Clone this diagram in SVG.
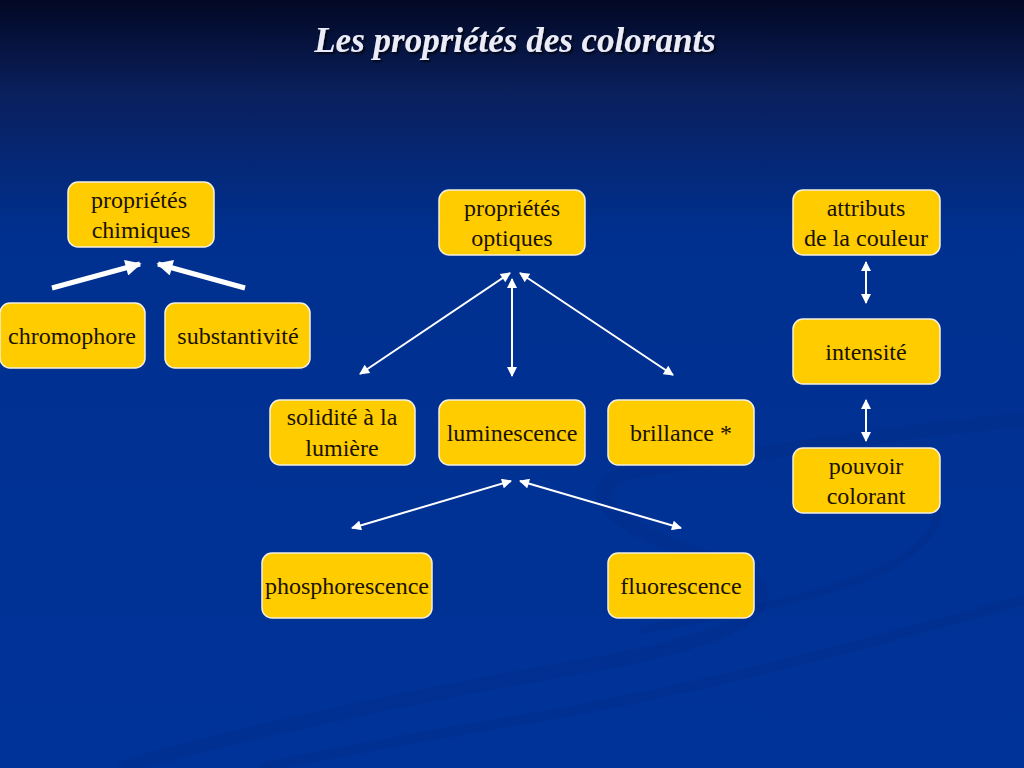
<svg xmlns="http://www.w3.org/2000/svg" width="1024" height="768" viewBox="0 0 1024 768">
<defs>
<linearGradient id="bg" x1="0" y1="0" x2="0" y2="1">
<stop offset="0" stop-color="#020824"/>
<stop offset="0.12" stop-color="#0a1f5c"/>
<stop offset="0.3" stop-color="#00308f"/>
<stop offset="1" stop-color="#003399"/>
</linearGradient>
<marker id="ah" viewBox="0 0 10 10" refX="9" refY="5" markerWidth="12" markerHeight="10" markerUnits="userSpaceOnUse" orient="auto-start-reverse">
<path d="M0,0 L10,5 L0,10 Z" fill="#ffffff"/>
</marker>
<marker id="ahb" viewBox="0 0 10 10" refX="9" refY="5" markerWidth="20" markerHeight="16" markerUnits="userSpaceOnUse" orient="auto">
<path d="M0,0 L10,5 L0,10 Z" fill="#ffffff"/>
</marker>
<filter id="sh" x="-5%" y="-20%" width="110%" height="140%">
<feDropShadow dx="2" dy="2" stdDeviation="1" flood-color="#000000" flood-opacity="0.7"/>
</filter>
</defs>
<style>
.box{fill:#ffcc00;stroke:#f4f0e0;stroke-width:1.5}
.t{font-family:"Liberation Serif","Times New Roman",serif;font-size:24px;fill:#1a1200;text-anchor:middle}
.c{stroke:#ffffff;stroke-width:2;fill:none}
.cb{stroke:#ffffff;stroke-width:5;fill:none}
.sw{fill:none;stroke:#002a85;stroke-opacity:0.3}
</style>
<rect x="0" y="0" width="1024" height="768" fill="url(#bg)"/>
<g id="background-swooshes">
<path class="sw" stroke-width="14" d="M1024,420 C900,430 760,455 640,470 C580,480 590,520 700,555 C820,590 760,640 560,670 C400,700 250,730 120,768"/>
<path class="sw" stroke-width="10" d="M1024,600 C880,640 700,690 520,720 C400,740 300,760 260,768"/>
<path class="sw" stroke-width="8" d="M850,450 C950,480 960,520 900,560 C850,590 760,610 640,630"/>
</g>
<text x="515" y="52" font-family="Liberation Serif,'Times New Roman',serif" font-size="35" font-weight="bold" font-style="italic" fill="#ececf8" text-anchor="middle" filter="url(#sh)">Les propriétés des colorants</text>
<g id="connectors">
<line class="cb" x1="52" y1="288" x2="140" y2="264" marker-end="url(#ahb)"/>
<line class="cb" x1="245" y1="288" x2="158" y2="264" marker-end="url(#ahb)"/>
<line class="c" x1="510" y1="273" x2="360" y2="374" marker-start="url(#ah)" marker-end="url(#ah)"/>
<line class="c" x1="512" y1="279" x2="512" y2="376" marker-start="url(#ah)" marker-end="url(#ah)"/>
<line class="c" x1="520" y1="273" x2="673" y2="375" marker-start="url(#ah)" marker-end="url(#ah)"/>
<line class="c" x1="511" y1="481" x2="352" y2="528" marker-start="url(#ah)" marker-end="url(#ah)"/>
<line class="c" x1="520" y1="481" x2="681" y2="528" marker-start="url(#ah)" marker-end="url(#ah)"/>
<line class="c" x1="866" y1="262" x2="866" y2="303" marker-start="url(#ah)" marker-end="url(#ah)"/>
<line class="c" x1="866" y1="400" x2="866" y2="441" marker-start="url(#ah)" marker-end="url(#ah)"/>
</g>
<g id="n-chimiques"><rect class="box" x="68" y="182" width="146" height="65" rx="10"/><text class="t" x="139" y="208">propriétés</text><text class="t" x="141" y="238">chimiques</text></g>
<g id="n-chromophore"><rect class="box" x="0" y="303" width="145" height="65" rx="10"/><text class="t" x="72" y="344">chromophore</text></g>
<g id="n-substantivite"><rect class="box" x="165" y="303" width="145" height="65" rx="10"/><text class="t" x="238" y="344">substantivité</text></g>
<g id="n-optiques"><rect class="box" x="439" y="190" width="146" height="65" rx="10"/><text class="t" x="512" y="216">propriétés</text><text class="t" x="512" y="246">optiques</text></g>
<g id="n-solidite"><rect class="box" x="270" y="400" width="145" height="65" rx="10"/><text class="t" x="342" y="425">solidité à la</text><text class="t" x="342" y="456">lumière</text></g>
<g id="n-luminescence"><rect class="box" x="439" y="400" width="146" height="65" rx="10"/><text class="t" x="512" y="441">luminescence</text></g>
<g id="n-brillance"><rect class="box" x="608" y="400" width="146" height="65" rx="10"/><text class="t" x="681" y="441">brillance *</text></g>
<g id="n-phosphorescence"><rect class="box" x="262" y="553" width="170" height="65" rx="10"/><text class="t" x="347" y="594">phosphorescence</text></g>
<g id="n-fluorescence"><rect class="box" x="608" y="553" width="146" height="65" rx="10"/><text class="t" x="681" y="594">fluorescence</text></g>
<g id="n-attributs"><rect class="box" x="793" y="190" width="147" height="65" rx="10"/><text class="t" x="866" y="216">attributs</text><text class="t" x="866" y="246">de la couleur</text></g>
<g id="n-intensite"><rect class="box" x="793" y="319" width="147" height="65" rx="10"/><text class="t" x="866" y="360">intensité</text></g>
<g id="n-pouvoir"><rect class="box" x="793" y="448" width="147" height="65" rx="10"/><text class="t" x="866" y="474">pouvoir</text><text class="t" x="866" y="504">colorant</text></g>
</svg>
